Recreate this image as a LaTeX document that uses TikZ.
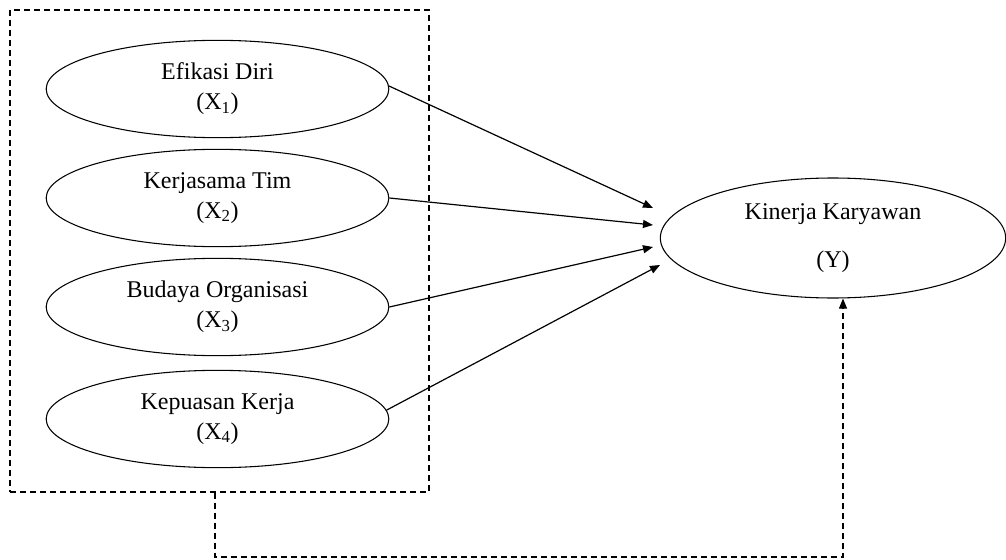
\documentclass[tikz,border=0pt]{standalone}
\usepackage{fontspec}
\setmainfont{Liberation Serif}
\usetikzlibrary{shapes.geometric,arrows.meta}
\begin{document}
\begin{tikzpicture}[x=0.75pt,y=-0.75pt,
  oval/.style={draw, ellipse, line width=0.8pt, inner sep=0pt, align=center,
    minimum width=257pt, minimum height=73pt,
    font=\fontsize{18pt}{22.5pt}\selectfont},
  frame/.style={draw, line width=0.8pt, dash pattern=on 4.5pt off 3pt, inner sep=0pt,
    minimum width=314.25pt, minimum height=361.5pt},
  link/.style={draw, line width=0.9pt, -{Triangle[length=7.5pt,width=6pt]}},
  feedback/.style={draw, line width=0.8pt, dash pattern=on 4.5pt off 3pt,
    -{Triangle[length=7.5pt,width=6pt]}}]
\useasboundingbox (0,0) rectangle (1006,560);
\node[frame] (box) at (219.5,251) {};
\node[oval] (e1) at (217.5,89) {Efikasi Diri\\(X\textsubscript{1})};
\node[oval] (e2) at (217.5,198) {Kerjasama Tim\\(X\textsubscript{2})};
\node[oval] (e3) at (217.5,307) {Budaya Organisasi\\(X\textsubscript{3})};
\node[oval] (e4) at (217.5,419) {Kepuasan Kerja\\(X\textsubscript{4})};
\node[oval, minimum width=259pt, minimum height=90pt] (Y) at (833,238)
  {Kinerja Karyawan\\[14pt](Y)};
\coordinate (t1) at (653,208);
\coordinate (t2) at (653,225);
\coordinate (t3) at (653,247);
\coordinate (t4) at (660,265);
\draw[link] (e1.1.4) -- (t1);
\draw[link] (e2.east) -- (t2);
\draw[link] (e3.east) -- (t3);
\draw[link] (e4.3) -- (t4);
\coordinate (c1) at (215,557);
\coordinate (c2) at (843,557);
\draw[feedback] (box.south -| c1) -- (c1) -- (c2) -- (c2 |- Y.south);
\end{tikzpicture}
\end{document}
